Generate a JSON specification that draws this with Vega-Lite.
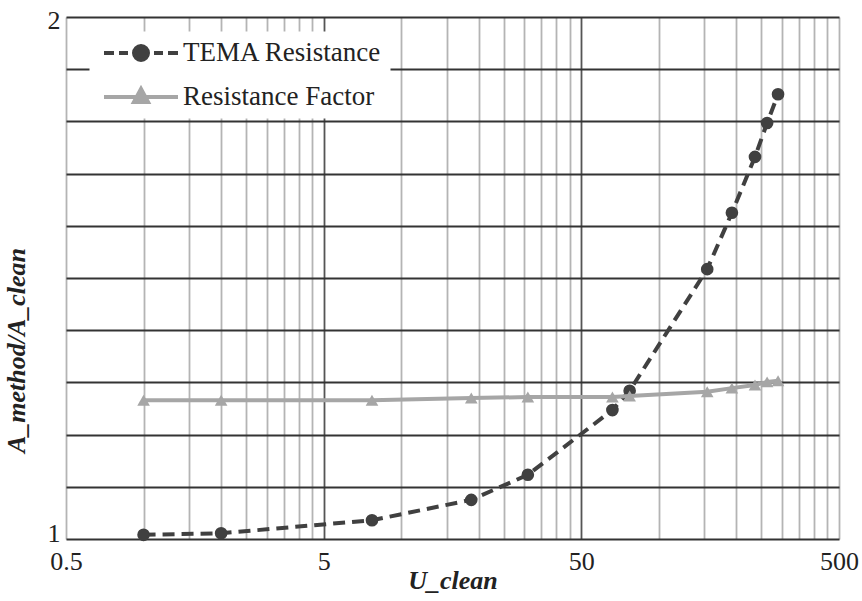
{
  "$schema": "https://vega.github.io/schema/vega-lite/v6.json",
  "width": 773,
  "height": 522,
  "autosize": "none",
  "padding": {"left": 66, "top": 17, "right": 23, "bottom": 62},
  "background": "white",
  "config": {"font": "Liberation Serif, Times New Roman, DejaVu Serif, serif", "view": {"stroke": null}},
  "data": {
    "values": [
      {"series": "TEMA Resistance", "U": 1, "ratio": 1.008},
      {"series": "TEMA Resistance", "U": 2, "ratio": 1.011},
      {"series": "TEMA Resistance", "U": 7.7, "ratio": 1.036},
      {"series": "TEMA Resistance", "U": 18.7, "ratio": 1.075},
      {"series": "TEMA Resistance", "U": 31, "ratio": 1.123},
      {"series": "TEMA Resistance", "U": 66, "ratio": 1.247},
      {"series": "TEMA Resistance", "U": 77, "ratio": 1.284},
      {"series": "TEMA Resistance", "U": 154, "ratio": 1.517},
      {"series": "TEMA Resistance", "U": 192, "ratio": 1.625},
      {"series": "TEMA Resistance", "U": 236, "ratio": 1.732},
      {"series": "TEMA Resistance", "U": 263, "ratio": 1.797},
      {"series": "TEMA Resistance", "U": 290, "ratio": 1.852},
      {"series": "Resistance Factor", "U": 1, "ratio": 1.266},
      {"series": "Resistance Factor", "U": 2, "ratio": 1.266},
      {"series": "Resistance Factor", "U": 7.7, "ratio": 1.266},
      {"series": "Resistance Factor", "U": 18.7, "ratio": 1.27},
      {"series": "Resistance Factor", "U": 31, "ratio": 1.272},
      {"series": "Resistance Factor", "U": 66, "ratio": 1.272},
      {"series": "Resistance Factor", "U": 77, "ratio": 1.274},
      {"series": "Resistance Factor", "U": 154, "ratio": 1.282},
      {"series": "Resistance Factor", "U": 192, "ratio": 1.289},
      {"series": "Resistance Factor", "U": 236, "ratio": 1.295},
      {"series": "Resistance Factor", "U": 263, "ratio": 1.301},
      {"series": "Resistance Factor", "U": 290, "ratio": 1.303}
    ]
  },
  "encoding": {
    "x": {
      "field": "U",
      "type": "quantitative",
      "scale": {"type": "log", "domain": [0.5, 500], "nice": false},
      "axis": {
        "values": [0.5, 1, 1.5, 2, 2.5, 3, 3.5, 4, 4.5, 5, 10, 15, 20, 25, 30, 35, 40, 45, 50, 100, 150, 200, 250, 300, 350, 400, 450, 500],
        "format": "~g",
        "labelExpr": "datum.value == 0.5 || datum.value == 5 || datum.value == 50 || datum.value == 500 ? datum.label : ''",
        "ticks": false,
        "domain": false,
        "grid": true,
        "gridColor": {"condition": {"test": "datum.value == 5 || datum.value == 50", "value": "#555555"}, "value": "#b4b4b4"},
        "gridWidth": 1.8,
        "gridOpacity": 1,
        "labelFont": "Liberation Serif, Times New Roman, DejaVu Serif, serif",
        "labelFontSize": 26,
        "labelColor": "#222222",
        "labelPadding": 9,
        "labelFlush": false,
        "labelOverlap": false,
        "title": "U_clean",
        "titleFont": "Liberation Serif, Times New Roman, DejaVu Serif, serif",
        "titleFontSize": 26,
        "titleFontStyle": "italic",
        "titleFontWeight": "bold",
        "titleColor": "#222222",
        "titlePadding": -7
      }
    },
    "y": {
      "field": "ratio",
      "type": "quantitative",
      "scale": {"domain": [1, 2], "nice": false, "zero": false},
      "axis": {
        "values": [1, 1.1, 1.2, 1.3, 1.4, 1.5, 1.6, 1.7, 1.8, 1.9, 2],
        "format": "~g",
        "labelExpr": "datum.value == 1 || datum.value == 2 ? datum.label : ''",
        "labelBaseline": {"condition": {"test": "datum.value == 1", "value": "alphabetic"}, "value": "middle"},
        "labelOffset": {"condition": {"test": "datum.value == 1", "value": 2}, "value": 3},
        "ticks": false,
        "domain": false,
        "grid": true,
        "gridColor": "#333333",
        "gridWidth": 1.8,
        "gridOpacity": 1,
        "labelFont": "Liberation Serif, Times New Roman, DejaVu Serif, serif",
        "labelFontSize": 26,
        "labelColor": "#222222",
        "labelPadding": 6,
        "title": "A_method/A_clean",
        "titleFont": "Liberation Serif, Times New Roman, DejaVu Serif, serif",
        "titleFontSize": 26,
        "titleFontStyle": "italic",
        "titleFontWeight": "bold",
        "titleColor": "#222222",
        "titlePadding": 18,
        "titleY": 333
      }
    },
    "color": {
      "field": "series",
      "type": "nominal",
      "scale": {"domain": ["TEMA Resistance", "Resistance Factor"], "range": ["#404040", "#a6a6a6"]},
      "legend": {
        "orient": "none",
        "legendX": 23.5,
        "legendY": 14.5,
        "title": null,
        "fillColor": "white",
        "padding": 8,
        "labelFont": "Liberation Serif, Times New Roman, DejaVu Serif, serif",
        "labelFontSize": 27,
        "labelColor": "#222222",
        "labelLimit": 400,
        "symbolSize": 4,
        "symbolStrokeWidth": 4,
        "symbolOffset": 0,
        "labelOffset": 58.5,
        "rowPadding": 12,
        "encode": {
          "symbols": {
            "update": {
              "shape": {"signal": "datum.value === 'TEMA Resistance' ? 'M-7,0H3M8,0H17M37,0A7,7 0 1,1 23,0A7,7 0 1,1 37,0ZM43,0H52M57,0H67' : 'M-7,0H67M30,-8L37,5L23,5Z'"},
              "fill": {"signal": "datum.value === 'TEMA Resistance' ? '#404040' : '#a6a6a6'"},
              "stroke": {"signal": "datum.value === 'TEMA Resistance' ? '#404040' : '#a6a6a6'"},
              "strokeWidth": {"value": 4},
              "strokeDash": {"value": []},
              "opacity": {"value": 1},
              "fillOpacity": {"value": 1}
            }
          }
        }
      }
    }
  },
  "layer": [
    {
      "transform": [{"filter": "datum.series === 'TEMA Resistance'"}],
      "mark": {"type": "line", "strokeDash": [12, 7], "strokeWidth": 4}
    },
    {
      "transform": [{"filter": "datum.series === 'TEMA Resistance'"}],
      "mark": {"type": "point", "shape": "circle", "filled": true, "size": 160, "opacity": 1}
    },
    {
      "transform": [{"filter": "datum.series === 'Resistance Factor'"}],
      "mark": {"type": "line", "strokeWidth": 4}
    },
    {
      "transform": [{"filter": "datum.series === 'Resistance Factor'"}],
      "mark": {"type": "point", "shape": "triangle-up", "filled": true, "size": 160, "opacity": 1}
    }
  ]
}
